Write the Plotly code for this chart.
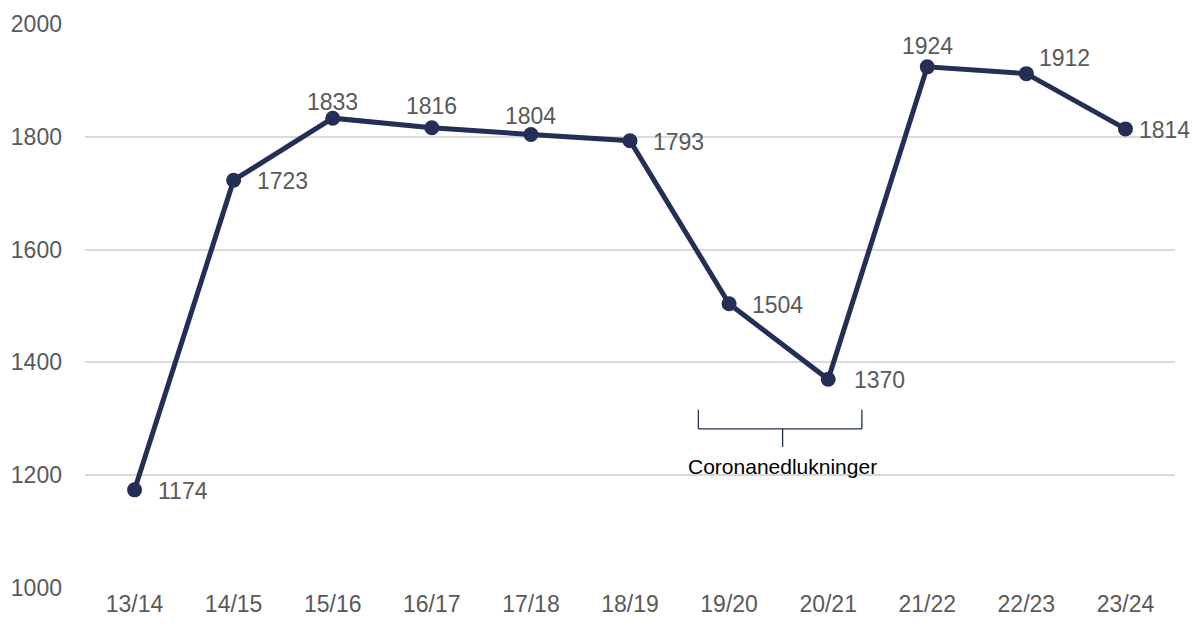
import plotly.graph_objects as go

seasons = ['13/14', '14/15', '15/16', '16/17', '17/18', '18/19',
           '19/20', '20/21', '21/22', '22/23', '23/24']
values = [1174, 1723, 1833, 1816, 1804, 1793, 1504, 1370, 1924, 1912, 1814]
# where each data label sits relative to its point
label_pos = ['right', 'right', 'top', 'top', 'top', 'right',
             'right', 'right', 'top', 'topright', 'right']
label_dy = [-1, -1, 1, 7, 4, -1, -1, -1, 6, 1, -1]
label_dx = [21, 21, 0, 0, 0, 21, 21, 24, 0, 11, 12]

navy = '#232F55'
grey = '#595959'
font_fam = 'Liberation Sans, Arial'

fig = go.Figure()
fig.add_trace(go.Scatter(
    x=seasons, y=values,
    mode='lines+markers',
    line=dict(color=navy, width=5),
    marker=dict(color=navy, size=15),
    hoverinfo='x+y',
    showlegend=False
))

annotations = []
for s, v, p, dy, dx in zip(seasons, values, label_pos, label_dy, label_dx):
    a = dict(x=s, y=v, text=str(v), showarrow=False, xshift=dx, yshift=dy,
             font=dict(family=font_fam, size=23, color=grey))
    if p == 'right':
        a.update(xanchor='left', yanchor='middle')
    elif p == 'top':
        a.update(xanchor='center', yanchor='bottom')
    else:
        a.update(xanchor='left', yanchor='bottom')
    annotations.append(a)

# bracket for the corona lockdowns
annotations.append(dict(x=6.54, y=1216, text='Coronanedlukninger', showarrow=False,
                        xanchor='center', yanchor='middle',
                        font=dict(family=font_fam, size=21, color='black')))

bracket = dict(color=navy, width=1.3)
shapes = [
    dict(type='line', xref='x', yref='y', x0=5.69, x1=5.69, y0=1316, y1=1282, line=bracket),
    dict(type='line', xref='x', yref='y', x0=5.69, x1=7.34, y0=1282, y1=1282, line=bracket),
    dict(type='line', xref='x', yref='y', x0=7.34, x1=7.34, y0=1316, y1=1282, line=bracket),
    dict(type='line', xref='x', yref='y', x0=6.54, x1=6.54, y0=1282, y1=1250, line=bracket),
]

# page body has an 8px margin, so the figure is shifted by 8px
fig.update_layout(
    width=1190, height=612,
    margin=dict(l=77, r=23, t=16, b=32),
    plot_bgcolor='white', paper_bgcolor='white',
    font=dict(family=font_fam, size=23, color=grey),
    annotations=annotations,
    shapes=shapes,
    xaxis=dict(type='category', range=[-0.5, 10.5], showgrid=False,
               showline=False, ticks='', automargin=False,
               tickfont=dict(size=23, color=grey)),
    yaxis=dict(range=[1000, 2000], dtick=200, showgrid=True,
               gridcolor='#D9D9D9', gridwidth=2, zeroline=False,
               ticks='', ticklabelstandoff=22, automargin=False,
               tickfont=dict(size=23, color=grey)),
)

fig.write_html('out.html')
